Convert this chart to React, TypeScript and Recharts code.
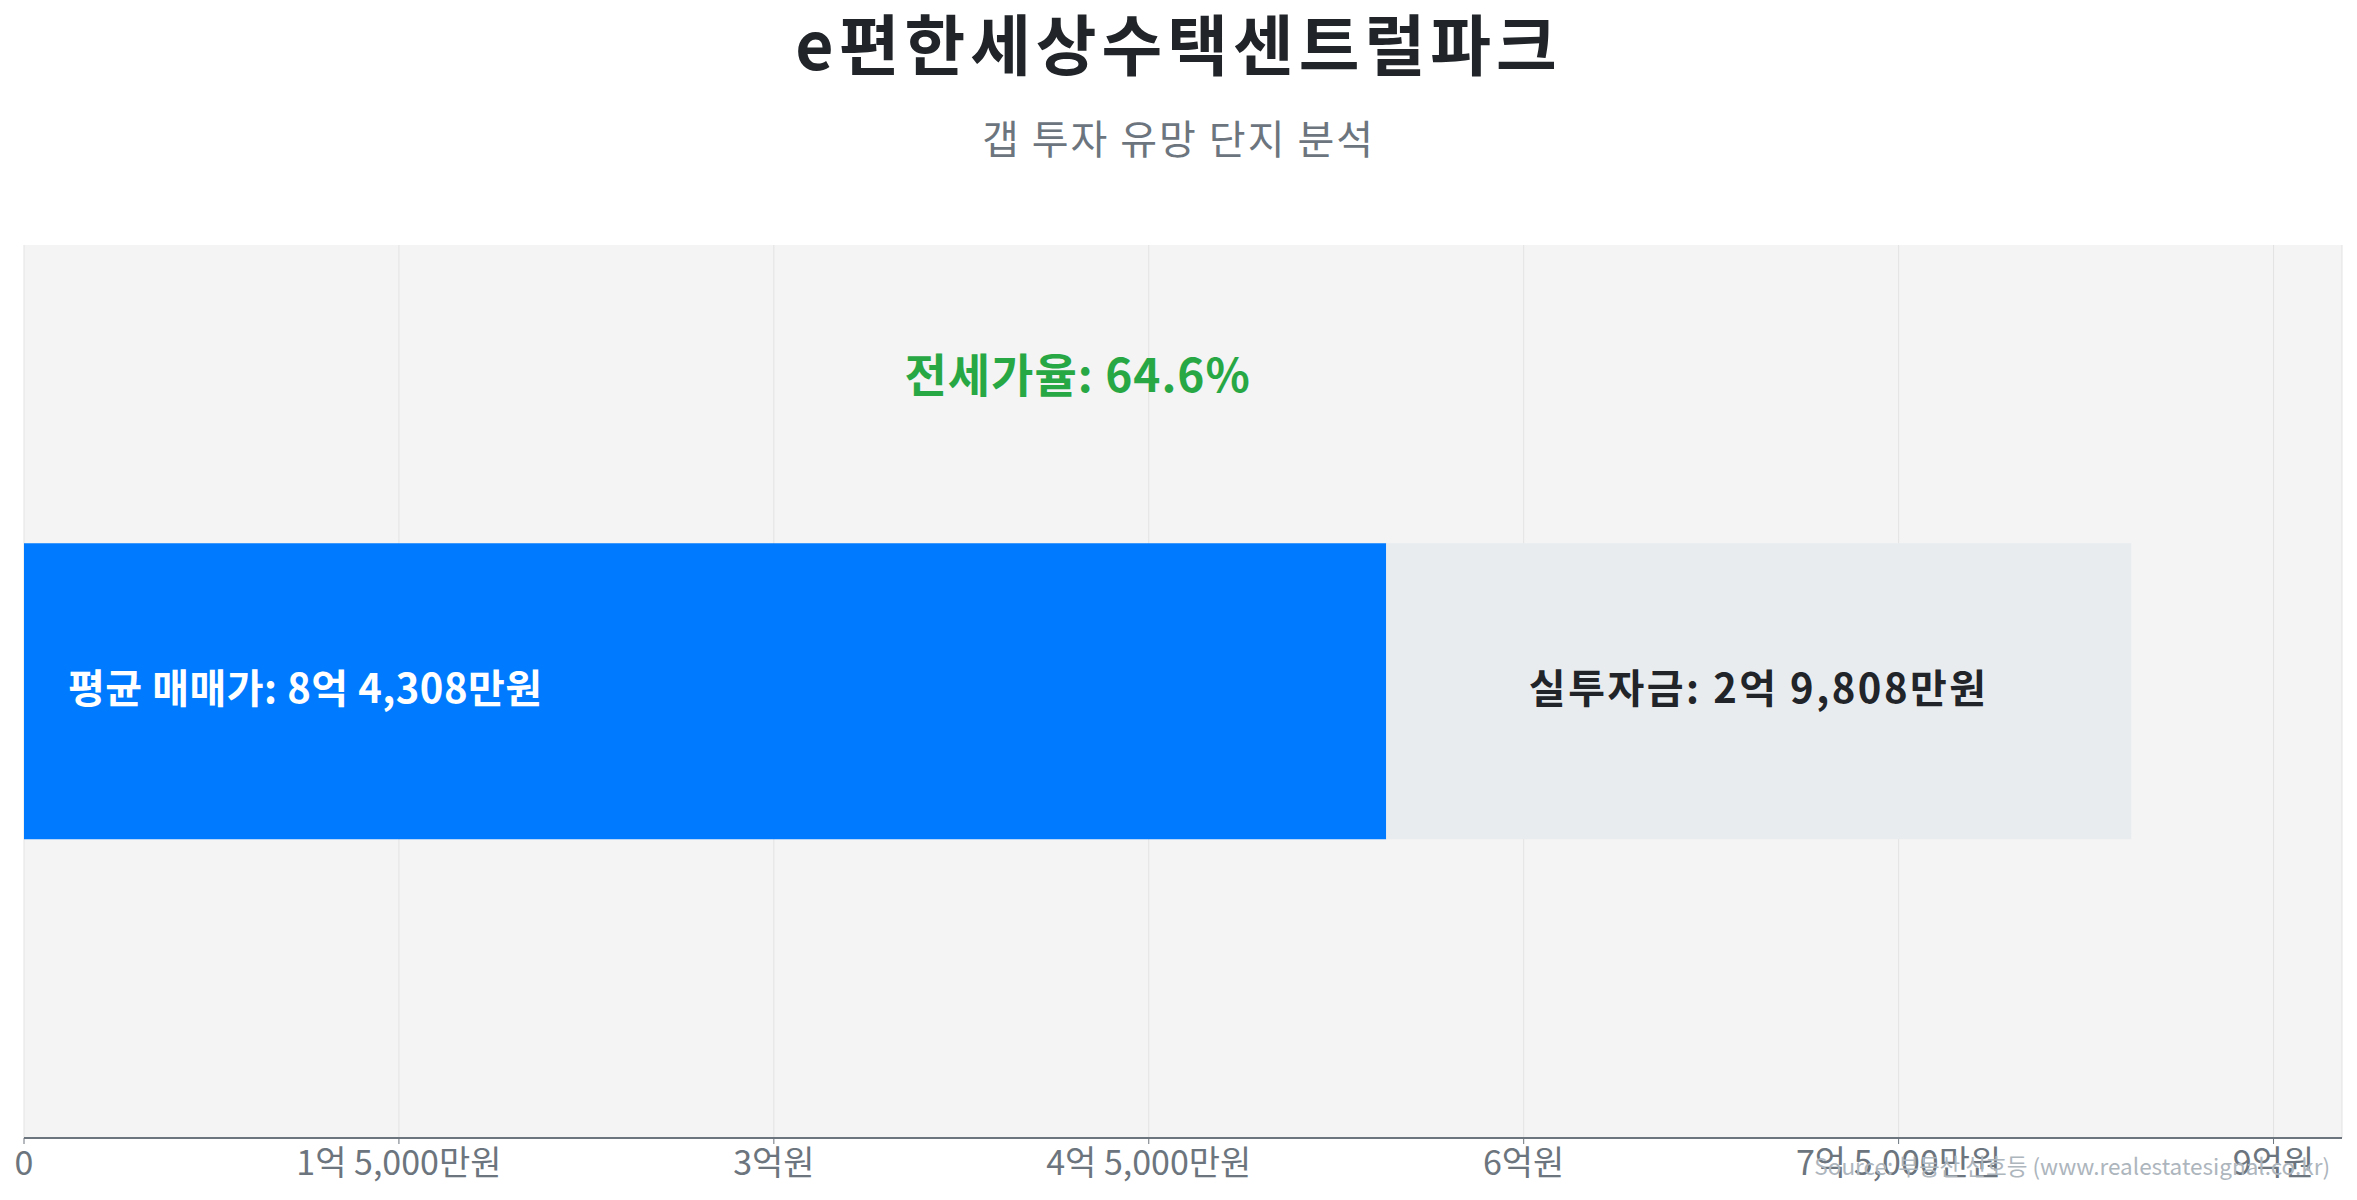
import React from 'react';
import { BarChart, Bar, XAxis, YAxis, CartesianGrid, LabelList, ReferenceDot } from 'recharts';

// values in 만원
const categories = ['e편한세상수택센트럴파크'];
const avgPrice = [84308];
const investment = [29808];
const jeonseRate = [64.6];
const xTicks = [0, 15000, 30000, 45000, 60000, 75000, 90000];

const chartData = categories.map((name, i) => ({
  name,
  price: avgPrice[i],
  jeonse: avgPrice[i] - investment[i],
  investment: investment[i],
  rate: jeonseRate[i],
}));

const maxPrice = Math.max(...avgPrice);

const FONT = '"Noto Sans CJK KR", "Noto Sans", sans-serif';

// 84308 -> "8억 4,308만원", 30000 -> "3억원"
const formatWon = (v: number) => {
  if (v === 0) return '0';
  const eok = Math.floor(v / 10000);
  const man = Math.round(v % 10000);
  const parts: string[] = [];
  if (eok > 0) parts.push(`${eok}억`);
  if (man > 0) parts.push(`${man.toLocaleString('en-US')}만원`);
  else parts[parts.length - 1] += '원';
  return parts.join(' ');
};

const PriceLabel = (props: any) => {
  const { x, y, height } = props;
  return (
    <text
      x={x + 44}
      y={y + height / 2 - 5}
      fill="#ffffff"
      fontSize={40}
      fontWeight={700}
      fontFamily={FONT}
      letterSpacing={0.5}
      dominantBaseline="central"
    >
      {`평균 매매가: ${formatWon(chartData[0].price)}`}
    </text>
  );
};

const InvestLabel = (props: any) => {
  const { x, y, width, height, value } = props;
  return (
    <text
      x={x + width / 2}
      y={y + height / 2 - 5}
      fill="#212529"
      fontSize={40}
      fontWeight={700}
      fontFamily={FONT}
      letterSpacing={2.5}
      textAnchor="middle"
      dominantBaseline="central"
    >
      {`실투자금: ${formatWon(value)}`}
    </text>
  );
};

const RateLabel = (props: any) => {
  const { viewBox } = props;
  return (
    <text
      x={viewBox.x}
      y={viewBox.y - 320}
      fill="#28a745"
      fontSize={46}
      fontWeight={700}
      fontFamily={FONT}
      letterSpacing={1}
      textAnchor="middle"
      dominantBaseline="central"
    >
      {`전세가율: ${chartData[0].rate}%`}
    </text>
  );
};

const App = () => {
  return (
    <div style={{ position: 'relative', width: 2357, height: 1200, background: '#fff', fontFamily: FONT }}>
      <style>{`body { margin: 0; }`}</style>
      <div
        style={{
          position: 'absolute', top: 4, left: 0, width: 2357, textAlign: 'center',
          fontSize: 66, fontWeight: 700, color: '#212529', lineHeight: '74px', letterSpacing: 5,
        }}
      >
        {categories[0]}
      </div>
      <div
        style={{
          position: 'absolute', top: 112, left: 0, width: 2357, textAlign: 'center',
          fontSize: 40, color: '#6c757d', lineHeight: '50px', letterSpacing: 2,
        }}
      >
        갭 투자 유망 단지 분석
      </div>
      <BarChart
        width={2357}
        height={1200}
        data={chartData}
        layout="vertical"
        margin={{ top: 245, right: 15, left: 24, bottom: 12 }}
        barCategoryGap="33.4%"
      >
        <CartesianGrid horizontal={false} stroke="#e3e3e3" fill="#f4f4f4" />
        <XAxis
          type="number"
          domain={[0, maxPrice * 1.1]}
          ticks={xTicks}
          tickFormatter={formatWon}
          height={50}
          tick={{ fill: '#6c757d', fontSize: 34, fontFamily: FONT }}
          axisLine={{ stroke: '#6c757d', strokeWidth: 2 }}
          tickLine={{ stroke: '#6c757d' }}
          tickSize={6}
          tickMargin={7}
          interval={0}
        />
        <YAxis
          type="category"
          dataKey="name"
          width={0}
          tick={false}
          tickLine={false}
          axisLine={{ stroke: '#6c757d', strokeWidth: 2 }}
        />
        <Bar dataKey="jeonse" stackId="a" fill="#007bff" isAnimationActive={false}>
          <LabelList dataKey="price" content={PriceLabel} />
        </Bar>
        <Bar dataKey="investment" stackId="a" fill="#e9ecef" isAnimationActive={false}>
          <LabelList dataKey="investment" content={InvestLabel} />
        </Bar>
        <ReferenceDot
          x={maxPrice / 2}
          y={categories[0]}
          r={0}
          fill="none"
          stroke="none"
          label={RateLabel}
        />
      </BarChart>
      <div
        style={{
          position: 'absolute', right: 27, top: 1150, fontSize: 22.5, color: '#adb5bd',
          lineHeight: '30px',
        }}
      >
        Source: 부동산 신호등 (www.realestatesignal.co.kr)
      </div>
    </div>
  );
};

export default App;
